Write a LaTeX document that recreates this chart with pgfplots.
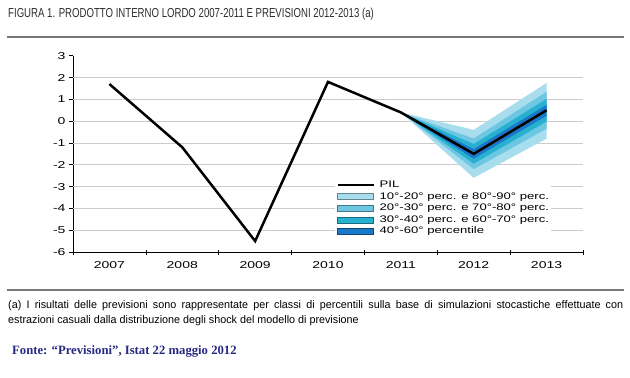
\documentclass[border=0pt]{standalone}
\usepackage{fontspec}
\setmainfont{Liberation Sans}
\newfontfamily\narrowfont[FakeStretch=0.74]{Liberation Sans}
\newfontfamily\footfont[FakeStretch=0.98]{Liberation Sans}
\newfontfamily\widefont[FakeStretch=1.4]{Liberation Sans}
\newfontfamily\legfont[FakeStretch=1.38]{Liberation Sans}
\newfontfamily\fontefont{Liberation Serif}
\usepackage{pgfplots}
\pgfplotsset{compat=1.18}
\definecolor{c1}{RGB}{168,221,238}
\definecolor{c2}{RGB}{110,199,226}
\definecolor{c3}{RGB}{40,176,208}
\definecolor{c4}{RGB}{26,120,200}
\definecolor{titlegray}{RGB}{45,45,45}
\definecolor{rulegray}{RGB}{120,120,120}
\definecolor{fontecol}{RGB}{38,40,130}
\pgfplotsset{
  swatch/.style={legend image code/.code={\draw[##1] (0bp,-3bp) rectangle (36bp,3bp);}},
  pilline/.style={legend image code/.code={\draw[##1] (0bp,0bp) -- (36bp,0bp);}},
}
\begin{document}
\begin{tikzpicture}
\useasboundingbox (0bp,0bp) rectangle (630bp,-378bp);
\node[anchor=west, inner sep=0, text=titlegray] at (8bp,-14bp) {\narrowfont\fontsize{13bp}{15bp}\selectfont FIGURA 1. PRODOTTO INTERNO LORDO 2007-2011 E PREVISIONI 2012-2013 (a)};
\draw[rulegray, line width=1.5bp] (7bp,-37bp) -- (624bp,-37bp);
\draw[rulegray, line width=1.5bp] (7bp,-290bp) -- (624bp,-290bp);
\node[anchor=west, inner sep=0] at (8bp,-306bp) {\footfont\fontsize{11bp}{13bp}\selectfont\makebox[615bp][s]{(a) I risultati delle previsioni sono rappresentate per classi di percentili sulla base di simulazioni stocastiche effettuate con}};
\node[anchor=west, inner sep=0] at (8bp,-320.7bp) {\footfont\fontsize{11bp}{13bp}\selectfont estrazioni casuali dalla distribuzione degli shock del modello di previsione};
\node[anchor=west, inner sep=0, text=fontecol] at (12bp,-351.7bp) {\fontefont\bfseries\fontsize{12.7bp}{14bp}\selectfont Fonte: “Previsioni”, Istat 22 maggio 2012};
\begin{axis}[
  at={(73bp,-252bp)}, anchor=south west,
  width=510bp, height=196.3bp, scale only axis,
  xmin=-0.5, xmax=6.5, ymin=-6, ymax=3,
  axis x line*=bottom, axis y line*=left,
  axis line style={black, line width=0.8bp},
  xtick={0,...,6}, xticklabels={2007,2008,2009,2010,2011,2012,2013},
  major x tick style={draw=none},
  minor xtick={-0.5,0.5,...,6.5},
  minor x tick style={black, line width=0.6bp, yshift=2bp},
  minor tick length=5bp,
  ytick={-6,...,3},
  major y tick style={black, line width=0.6bp},
  major tick length=4bp,
  tick align=outside,
  extra y ticks={-5,...,2}, extra y tick labels={},
  extra y tick style={grid=major, major grid style={black!20, line width=0.8bp}, major tick length=0pt},
  /pgf/number format/assume math mode=true,
  ticklabel style={font=\widefont\fontsize{10bp}{12bp}\selectfont},
  xticklabel style={yshift=-2bp},
  legend style={at={(rel axis cs:0.514,0.377)}, anchor=north west, draw=none, fill=white,
    font=\legfont\fontsize{9.5bp}{11bp}\selectfont, row sep=0pt, inner sep=1bp,
    nodes={inner sep=0.8bp, text height=7.5bp, text depth=2.5bp},
    /tikz/every odd column/.append style={column sep=4bp}},
  legend cell align=left,
]
\addplot[fill=c1, draw=none, forget plot] coordinates {(4,0.4) (5,-0.40) (6,1.75) (6,-0.80) (5,-2.60)} -- cycle;
\addplot[fill=c2, draw=none, forget plot] coordinates {(4,0.4) (5,-0.80) (6,1.35) (6,-0.35) (5,-2.20)} -- cycle;
\addplot[fill=c3, draw=none, forget plot] coordinates {(4,0.4) (5,-1.05) (6,1.02) (6,-0.02) (5,-1.95)} -- cycle;
\addplot[fill=c4, draw=none, forget plot] coordinates {(4,0.4) (5,-1.28) (6,0.75) (6,0.25) (5,-1.72)} -- cycle;
\addplot[black, line width=2.5bp, line join=miter, mark=none, pilline]
  coordinates {(0,1.7) (1,-1.2) (2,-5.5) (3,1.8) (4,0.4) (5,-1.5) (6,0.5)};
\addlegendentry{PIL}
\addlegendimage{swatch, fill=c1, draw=c1!60!black, line width=0.6bp}
\addlegendentry{10°-20° perc. e 80°-90° perc.}
\addlegendimage{swatch, fill=c2, draw=c2!60!black, line width=0.6bp}
\addlegendentry{20°-30° perc. e 70°-80° perc.}
\addlegendimage{swatch, fill=c3, draw=c3!60!black, line width=0.6bp}
\addlegendentry{30°-40° perc. e 60°-70° perc.}
\addlegendimage{swatch, fill=c4, draw=c4!60!black, line width=0.6bp}
\addlegendentry{40°-60° percentile}
\end{axis}
\end{tikzpicture}
\end{document}
